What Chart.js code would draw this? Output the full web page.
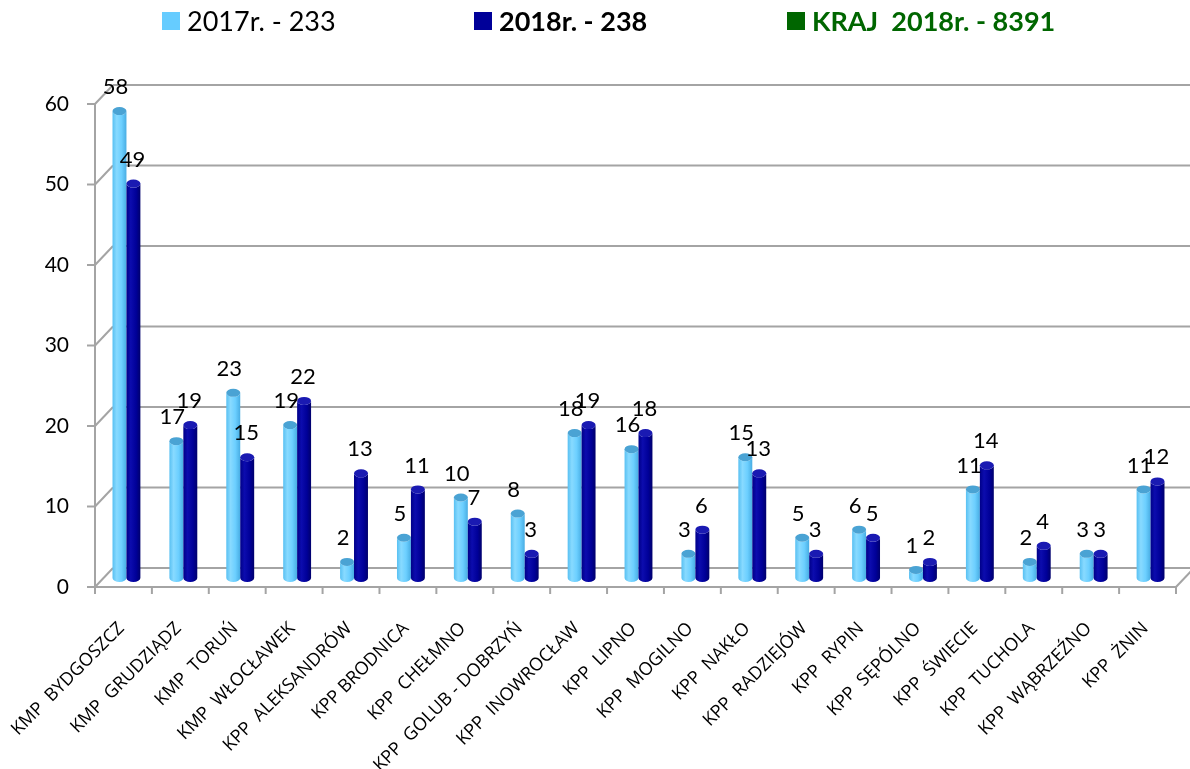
<!DOCTYPE html>
<html>
<head>
<meta charset="utf-8">
<script src="https://cdn.jsdelivr.net/npm/chart.js@4.4.1/dist/chart.umd.min.js"></script>
<style>
html,body{margin:0;padding:0;background:#fff;}
canvas{display:block;}
</style>
</head>
<body>
<canvas id="c" width="1190" height="769"></canvas>
<script>
const categories = ['KMP  BYDGOSZCZ','KMP  GRUDZIĄDZ','KMP  TORUŃ','KMP  WŁOCŁAWEK','KPP  ALEKSANDRÓW','KPP BRODNICA','KPP  CHEŁMNO','KPP  GOLUB - DOBRZYŃ','KPP  INOWROCŁAW','KPP  LIPNO','KPP  MOGILNO','KPP  NAKŁO','KPP  RADZIEJÓW','KPP  RYPIN','KPP  SĘPÓLNO','KPP  ŚWIECIE','KPP  TUCHOLA','KPP  WĄBRZEŹNO','KPP  ŻNIN'];
const values2017 = [58,17,23,19,2,5,10,8,18,16,3,15,5,6,1,11,2,3,11];
const values2018 = [49,19,15,22,13,11,7,3,19,18,6,13,3,5,2,14,4,3,12];
const legendLabels = ['2017r. - 233','2018r. - 238','KRAJ  2018r. - 8391'];
const yMin = 0, yMax = 60, yStep = 10;

const FRONT = {dx:-3, dy:9};
const BACK = {dx:15, dy:-10};

const cylStyles = [
  {stops:[[0,'#58c0f2'],[0.3,'#88daff'],[0.65,'#6ccfff'],[1,'#48ade3']], top:'#4aa3d4'},
  {stops:[[0,'#000088'],[0.3,'#0c0cae'],[0.7,'#000098'],[1,'#00006c']], top:'#1a1ab2'}
];

const deco = {
  id:'deco',
  beforeDatasetsDraw(chart){
    const ctx = chart.ctx, ca = chart.chartArea, y = chart.scales.y;
    ctx.save();
    ctx.strokeStyle = '#a4a4a4';
    ctx.lineWidth = 2;
    const ticks = y.ticks.map(t=>t.value);
    ticks.forEach(v=>{
      const py = y.getPixelForValue(v);
      ctx.beginPath();
      ctx.moveTo(ca.left+BACK.dx, py+BACK.dy);
      ctx.lineTo(ca.right+BACK.dx+10, py+BACK.dy);
      ctx.stroke();
      ctx.beginPath();
      ctx.moveTo(ca.left+FRONT.dx, py+FRONT.dy);
      ctx.lineTo(ca.left+BACK.dx, py+BACK.dy);
      ctx.stroke();
      ctx.beginPath();
      ctx.moveTo(ca.left+FRONT.dx-8, py+FRONT.dy);
      ctx.lineTo(ca.left+FRONT.dx, py+FRONT.dy);
      ctx.stroke();
    });
    const y0 = y.getPixelForValue(yMin), yT = y.getPixelForValue(yMax);
    ctx.beginPath();
    ctx.moveTo(ca.left+FRONT.dx, y0+FRONT.dy);
    ctx.lineTo(ca.left+FRONT.dx, yT+FRONT.dy);
    ctx.stroke();
    ctx.beginPath();
    ctx.moveTo(ca.left+FRONT.dx, y0+FRONT.dy);
    ctx.lineTo(ca.right+FRONT.dx, y0+FRONT.dy);
    ctx.stroke();
    ctx.beginPath();
    ctx.moveTo(ca.right+FRONT.dx, y0+FRONT.dy);
    ctx.lineTo(ca.right+BACK.dx, y0+BACK.dy);
    ctx.stroke();
    const n = categories.length;
    const cw = (ca.right-ca.left)/n;
    for(let i=0;i<=n;i++){
      const px = ca.left+FRONT.dx+i*cw;
      ctx.beginPath();
      ctx.moveTo(px, y0+FRONT.dy);
      ctx.lineTo(px, y0+FRONT.dy+7);
      ctx.stroke();
    }
    ctx.fillStyle = '#000';
    ctx.font = '21px Lato';
    ctx.textAlign = 'right';
    ctx.textBaseline = 'middle';
    y.ticks.forEach(t=>{
      ctx.fillText(String(t.value), 69, y.getPixelForValue(t.value)+FRONT.dy);
    });
    ctx.restore();
  },
  afterDatasetsDraw(chart){
    const ctx = chart.ctx;
    const metas = [chart.getDatasetMeta(0), chart.getDatasetMeta(1)];
    const n = categories.length;
    ctx.save();
    for(let i=0;i<n;i++){
      metas.forEach((meta,di)=>{
        const el = meta.data[i];
        const st = cylStyles[di];
        const w = el.width, rx = w/2, ry = 4;
        const l = el.x - rx, r = el.x + rx, top = el.y, base = el.base;
        const g = ctx.createLinearGradient(l,0,r,0);
        st.stops.forEach(s=>g.addColorStop(s[0],s[1]));
        ctx.fillStyle = g;
        ctx.beginPath();
        ctx.moveTo(l, top);
        ctx.lineTo(l, base);
        ctx.ellipse(el.x, base, rx, ry, 0, Math.PI, 0, true);
        ctx.lineTo(r, top);
        ctx.ellipse(el.x, top, rx, ry, 0, 0, Math.PI, false);
        ctx.closePath();
        ctx.fill();
        ctx.fillStyle = st.top;
        ctx.beginPath();
        ctx.ellipse(el.x, top, rx, ry, 0, 0, Math.PI*2);
        ctx.fill();
      });
    }
    ctx.fillStyle = '#000';
    ctx.font = '22px Lato';
    ctx.textAlign = 'center';
    ctx.textBaseline = 'middle';
    metas.forEach((meta,di)=>{
      const vals = di===0 ? values2017 : values2018;
      const dx = di===0 ? -4 : -1;
      meta.data.forEach((el,i)=>{
        ctx.fillText(String(vals[i]), el.x+dx, el.y-24);
      });
    });
    const items = [
      {x:162, color:'#66ccff', font:'27px Lato', tc:'#000'},
      {x:474, color:'#000099', font:'bold 27px Lato', tc:'#000'},
      {x:787, color:'#006600', font:'bold 27px Lato', tc:'#006600'}
    ];
    items.forEach((it,k)=>{
      ctx.fillStyle = it.color;
      ctx.fillRect(it.x, 12, 18, 18);
      ctx.fillStyle = it.tc;
      ctx.font = it.font;
      ctx.textAlign = 'left';
      ctx.textBaseline = 'middle';
      ctx.fillText(legendLabels[k], it.x+25, 22);
    });
    ctx.restore();
  }
};

new Chart(document.getElementById('c'), {
  type:'bar',
  data:{
    labels:categories,
    datasets:[
      {label:legendLabels[0], data:values2017, backgroundColor:'rgba(0,0,0,0)', borderWidth:0, categoryPercentage:0.49, barPercentage:1},
      {label:legendLabels[1], data:values2018, backgroundColor:'rgba(0,0,0,0)', borderWidth:0, categoryPercentage:0.49, barPercentage:1}
    ]
  },
  options:{
    responsive:false,
    animation:false,
    devicePixelRatio:1,
    layout:{padding:{top:95, right:11, left:0, bottom:0}},
    plugins:{legend:{display:false}, tooltip:{enabled:false}},
    scales:{
      x:{
        grid:{display:false, drawTicks:false},
        border:{display:false},
        ticks:{autoSkip:false, maxRotation:45, minRotation:45, color:'#000', font:{family:'Open Sans', size:18}, padding:40, labelOffset:-5},
        afterFit(s){ s.height = 191; s.paddingLeft = 0; s.paddingRight = 0; }
      },
      y:{
        min:yMin, max:yMax,
        grid:{display:false, drawTicks:false},
        border:{display:false},
        ticks:{stepSize:yStep, display:false},
        afterFit(s){ s.width = 98; }
      }
    }
  },
  plugins:[deco]
});
</script>
</body>
</html>
